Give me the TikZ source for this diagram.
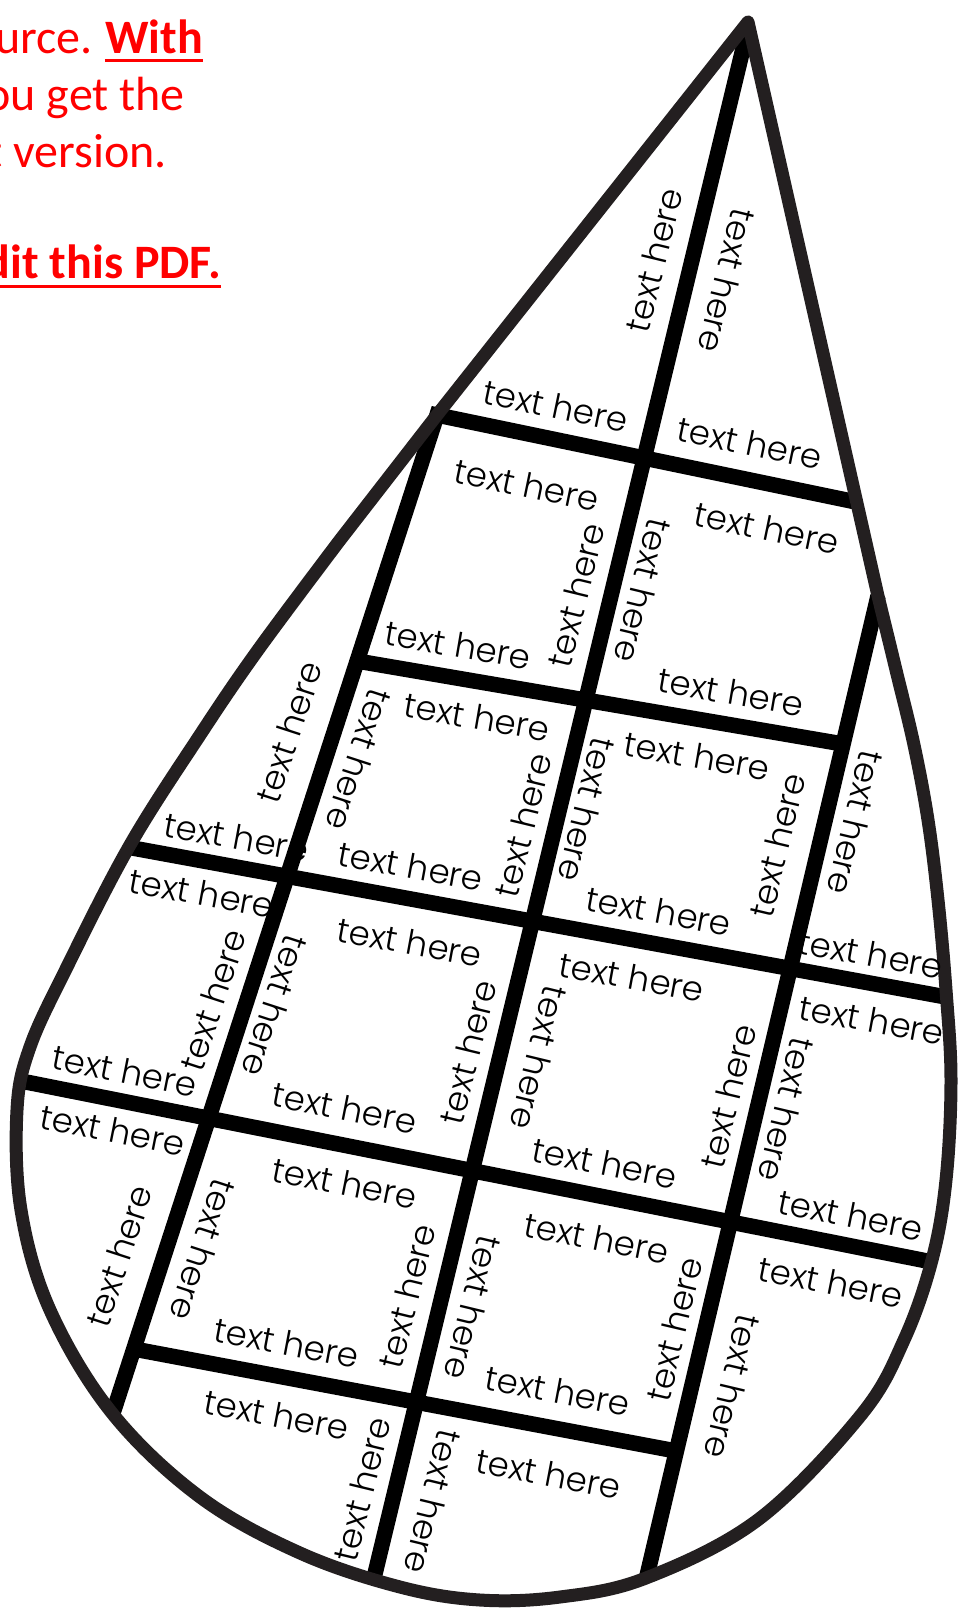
\documentclass[tikz,border=0pt]{standalone}
\usepackage{fontspec}
\usepackage{xcolor}
\usepackage{tikz}
\IfFontExistsTF{Poppins Light}{\newfontfamily\labfont{Poppins Light}}{\newfontfamily\labfont{Poppins}}
\newfontfamily\notefont{Carlito}
\definecolor{dropline}{HTML}{231F20}
\tikzset{
  gridline/.style={line width=15.5pt, black},
  dropedge/.style={line width=13pt, dropline, line join=round},
  lab/.style={font=\labfont\fontsize{34}{38}\selectfont, inner sep=0pt},
  note/.style={font=\notefont\fontsize{48}{57}\selectfont, text=red, inner sep=0pt},
  noteline/.style={red, line width=3pt},
  vup0/.style={lab, rotate=72},
  vdn0/.style={lab, rotate=-108},
  vup1/.style={lab, rotate=76.4},
  vdn1/.style={lab, rotate=-103.6},
  vup2/.style={lab, rotate=76.7},
  vdn2/.style={lab, rotate=-103.3},
  hza/.style={lab, rotate=-11.7},
  hzb/.style={lab, rotate=-9.7},
  hzc/.style={lab, rotate=-10.4},
  hzd/.style={lab, rotate=-11.2},
  hze/.style={lab, rotate=-10.7}
}

\begin{document}
\begin{tikzpicture}[x=1pt, y=-1pt]
    \useasboundingbox (0,0) rectangle (959,1611);
    % end points of the grid
    \coordinate (tip) at (748,22);
    \coordinate (c0) at (437,415);
    \coordinate (v0b) at (113,1413);
    \coordinate (v1t) at (748,28);
    \coordinate (v1b) at (373,1582);
    \coordinate (v2t) at (878,596);
    \coordinate (v2b) at (646,1580);
    \coordinate (har) at (856,502);
    \coordinate (hbl) at (357,661);
    \coordinate (hbr) at (843,744);
    \coordinate (hcl) at (127,847);
    \coordinate (hcr) at (946,997);
    \coordinate (hdl) at (21,1081);
    \coordinate (hdr) at (932,1262);
    \coordinate (hel) at (134,1349);
    \coordinate (her) at (676,1451);

    % grid lines
    \draw[gridline, line join=miter] (har) -- (c0) -- (v0b);
    \draw[gridline] (v1t) -- (v1b);
    \draw[gridline] (v2t) -- (v2b);
    \draw[gridline] (hbl) -- (hbr);
    \draw[gridline] (hcl) -- (hcr);
    \draw[gridline] (hdl) -- (hdr);
    \draw[gridline] (hel) -- (her);

    % the drop
    \draw[dropedge] (tip) -- (c0) -- (340,540) -- plot[smooth, tension=0.6] coordinates {
        (340,540) (258,650) (200,735) (130,845) (67,967) (30,1047) (17,1110)
        (21,1210) (50,1310) (112,1413) (200,1497) (300,1553) (400,1587)
        (480,1600) (560,1597) (646,1578) (759,1519) (861,1415) (904,1340)
        (932,1260) (946,1180) (951,1080) (946,990) (938,900) (928,820)
        (914,745) (896,670) (878,596)} -- cycle;

    % labels, top
    \node[vup1] (t1) at (654,260) {text here};
    \node[vdn1] (t2) at (727,281) {text here};
    \node[hza] (t3) at (556,406) {text here};
    \node[hza] (t4) at (750,443) {text here};
    % between HA and HB
    \node[hza] (t5) at (527,485) {text here};
    \node[hza] (t6) at (767,528) {text here};
    \node[vup1] (t7) at (576,595) {text here};
    \node[vdn1] (t8) at (643,591) {text here};
    \node[hzb] (t9) at (458,645) {text here};
    \node[hzb] (t10) at (731,692) {text here};
    \node[vup0] (t11) at (289,732) {text here};
    \node[hzc] (t12) at (237,837) {text here};
    % between HB and HC
    \node[vdn0] (t13) at (359,760) {text here};
    \node[hzb] (t14) at (477,717) {text here};
    \node[vup1] (t15) at (523,825) {text here};
    \node[hzc] (t16) at (411,866) {text here};
    \node[vdn1] (t17) at (587,810) {text here};
    \node[hzb] (t18) at (697,756) {text here};
    \node[vup2] (t19) at (777,845) {text here};
    \node[hzc] (t20) at (659,911) {text here};
    \node[vdn2] (t21) at (856,823) {text here};
    \node[hzc] (t22) at (871,954) {text here};
    % between HC and HD
    \node[hzc] (t23) at (202,893) {text here};
    \node[vup0] (t24) at (213,1000) {text here};
    \node[hzd] (t25) at (125,1071) {text here};
    \node[vdn0] (t26) at (275,1006) {text here};
    \node[hzc] (t27) at (410,942) {text here};
    \node[vup1] (t28) at (468,1052) {text here};
    \node[hzd] (t29) at (345,1108) {text here};
    \node[vdn1] (t30) at (539,1058) {text here};
    \node[hzc] (t31) at (632,977) {text here};
    \node[vup2] (t32) at (728,1096) {text here};
    \node[hzd] (t33) at (605,1163) {text here};
    \node[hzc] (t34) at (872,1020) {text here};
    \node[vdn2] (t35) at (787,1110) {text here};
    \node[hzd] (t36) at (851,1215) {text here};
    % below HD
    \node[hzd] (t37) at (113,1130) {text here};
    \node[vup0] (t38) at (119,1256) {text here};
    \node[hzd] (t39) at (345,1183) {text here};
    \node[vdn0] (t40) at (203,1250) {text here};
    \node[vup1] (t41) at (407,1296) {text here};
    \node[hze] (t42) at (287,1343) {text here};
    \node[hzd] (t43) at (597,1238) {text here};
    \node[vdn1] (t44) at (473,1308) {text here};
    \node[vup2] (t45) at (674,1329) {text here};
    \node[hze] (t46) at (558,1391) {text here};
    \node[hzd] (t47) at (831,1282) {text here};
    \node[vdn2] (t48) at (733,1387) {text here};
    \node[hze] (t49) at (277,1415) {text here};
    \node[vup1] (t50) at (362,1489) {text here};
    \node[vdn1] (t51) at (433,1502) {text here};
    \node[hze] (t52) at (549,1474) {text here};

    % red note, cut at the left edge
    \node[note, anchor=base east] (with) at (203,53) {\textbf{With}};
    \node[note, anchor=base east] (n1) at ([xshift=-12pt]with.base west) {urce.};
    \node[note, anchor=base east] (n2) at (185,110) {ou get the};
    \node[note, anchor=base east] (n3) at (167,167) {t version.};
    \node[note, anchor=base east] (n4) at (221,278) {\textbf{dit this PDF.}};
    \draw[noteline] ([yshift=-8pt]with.base west) -- ([yshift=-8pt]with.base east);
    \draw[noteline] ([yshift=-8pt]n4.base west) -- ([yshift=-8pt]n4.base east);
\end{tikzpicture}
\end{document}
